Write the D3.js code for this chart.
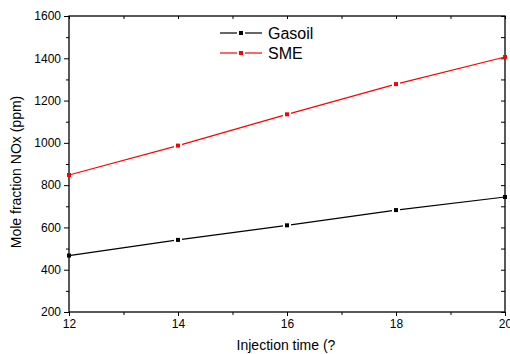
<!DOCTYPE html>
<html><head><meta charset="utf-8">
<script src="https://cdn.jsdelivr.net/npm/d3@7"></script>
<style>
html,body{margin:0;padding:0;background:#fff;}
svg{display:block;font-family:"Liberation Sans",Arial,sans-serif;}
</style></head>
<body>
<svg id="c" width="510" height="354"></svg>
<script>
const injectionTime = [12, 14, 16, 18, 20];
const gasoil = [467, 541, 610, 682, 744];
const sme = [848, 987, 1135, 1278, 1406];
const xTicks = [12, 14, 16, 18, 20];
const xMinor = [13, 15, 17, 19];
const yTicks = [200, 400, 600, 800, 1000, 1200, 1400, 1600];
const yMinor = [300, 500, 700, 900, 1100, 1300, 1500];
const seriesNames = ["Gasoil", "SME"];
const seriesColors = ["#000000", "#ff0000"];

const svg = d3.select("#c");
const L = 69, R = 505, T = 16, B = 312;
const x = d3.scaleLinear().domain([12, 20]).range([L, R]);
const y = d3.scaleLinear().domain([200, 1600]).range([B, T]);

function axisStyle(g){
  g.select(".domain").remove();
  g.selectAll("line").attr("stroke","#000").attr("stroke-width",1);
  g.selectAll("text").attr("fill","#000").attr("font-size","12px").attr("font-family","'Liberation Sans',Arial,sans-serif");
}

// left axis
svg.append("g").attr("transform",`translate(${L},0)`)
  .call(d3.axisLeft(y).tickValues(yTicks).tickSize(5).tickPadding(3).tickFormat(d3.format("d")))
  .call(axisStyle);
svg.append("g").attr("transform",`translate(${L},0)`)
  .call(d3.axisLeft(y).tickValues(yMinor).tickSize(3).tickFormat(""))
  .call(axisStyle);
// right axis (inward)
svg.append("g").attr("transform",`translate(${R},0)`)
  .call(d3.axisLeft(y).tickValues(yTicks.concat(yMinor)).tickSize(4).tickFormat(""))
  .call(axisStyle);
// bottom axis
svg.append("g").attr("transform",`translate(0,${B})`)
  .call(d3.axisBottom(x).tickValues(xTicks).tickSize(4).tickPadding(3).tickFormat(d3.format("d")))
  .call(axisStyle);
svg.append("g").attr("transform",`translate(0,${B})`)
  .call(d3.axisBottom(x).tickValues(xMinor).tickSize(3).tickFormat(""))
  .call(axisStyle);
// top axis (inward)
svg.append("g").attr("transform",`translate(0,${T})`)
  .call(d3.axisBottom(x).tickValues(xTicks.concat(xMinor)).tickSize(3).tickFormat(""))
  .call(axisStyle);

// frame
svg.append("rect").attr("x",L).attr("y",T).attr("width",R-L).attr("height",B-T)
  .attr("fill","none").attr("stroke","#000").attr("stroke-width",1.3);

const line = d3.line().x((d,i)=>x(injectionTime[i])).y(d=>y(d));
[gasoil, sme].forEach((s,k)=>{
  const c = seriesColors[k];
  svg.append("path").datum(s).attr("d",line).attr("fill","none").attr("stroke",c).attr("stroke-width",1.2);
  // white gaps around interior markers
  svg.selectAll(null).data(s.slice(1,-1)).enter().append("rect")
    .attr("x",(d,i)=>x(injectionTime[i+1])-4).attr("y",d=>y(d)-4)
    .attr("width",8).attr("height",8).attr("fill","#fff");
  svg.selectAll(null).data(s).enter().append("rect")
    .attr("x",(d,i)=>x(injectionTime[i])-2).attr("y",d=>y(d)-2)
    .attr("width",4).attr("height",4).attr("fill",c);
});

// legend
const ly = [33, 53];
seriesNames.forEach((n,k)=>{
  const c = seriesColors[k];
  svg.append("line").attr("x1",220).attr("x2",237).attr("y1",ly[k]).attr("y2",ly[k]).attr("stroke",c).attr("stroke-width",1.2);
  svg.append("line").attr("x1",245).attr("x2",262).attr("y1",ly[k]).attr("y2",ly[k]).attr("stroke",c).attr("stroke-width",1.2);
  svg.append("rect").attr("x",239).attr("y",ly[k]-2).attr("width",4).attr("height",4).attr("fill",c);
  svg.append("text").attr("x",268).attr("y",ly[k]+6).attr("font-size","16px").attr("fill","#000").text(n);
});

// axis titles
svg.append("text").attr("x",286).attr("y",350).attr("text-anchor","middle").attr("font-size","14px").attr("fill","#000").text("Injection time (?");
svg.append("text").attr("transform","translate(20.5,172) rotate(-90)").attr("text-anchor","middle").attr("font-size","14px").attr("fill","#000").text("Mole fraction NOx (ppm)");
</script>
</body></html>
